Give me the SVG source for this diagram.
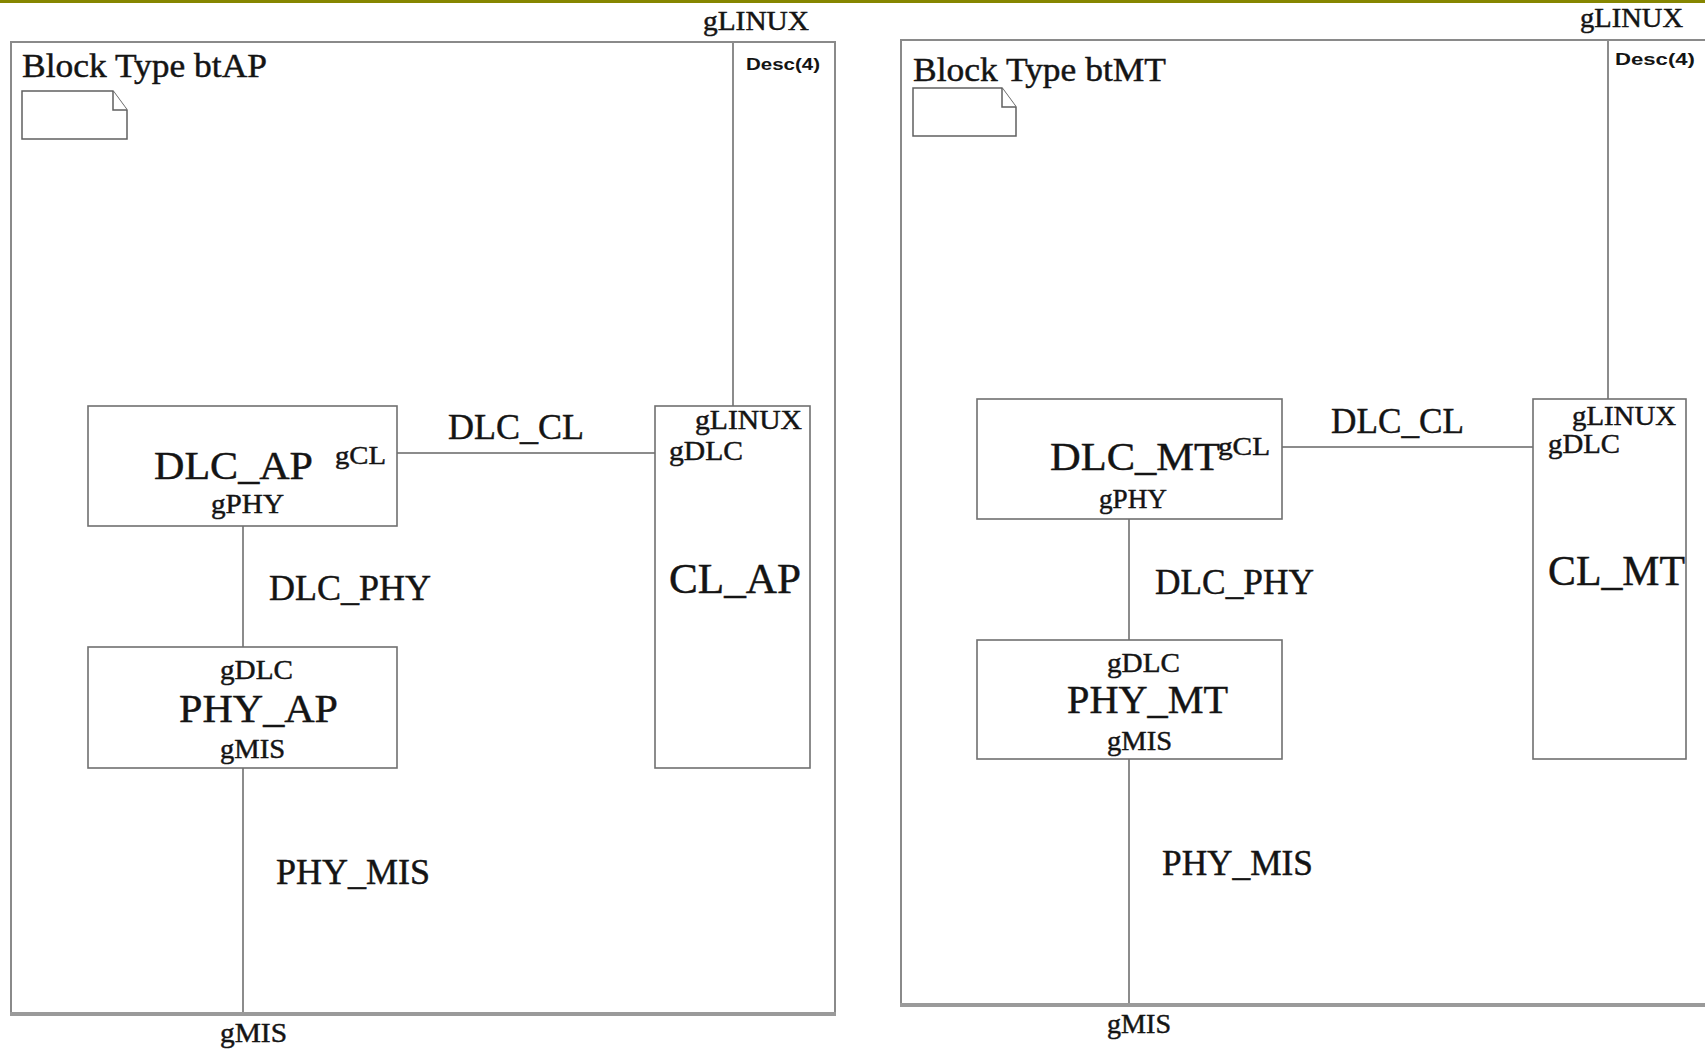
<svg xmlns="http://www.w3.org/2000/svg" width="1705" height="1049" viewBox="0 0 1705 1049">
<style>
.t{font-family:"Liberation Serif","Times New Roman",serif;fill:#141414;stroke:#141414;stroke-width:0.45}
.s{font-family:"Liberation Sans",Arial,sans-serif;fill:#141414;font-weight:bold}
.frame{fill:none;stroke:#8a8a8a;stroke-width:2}
.fb{fill:none;stroke:#9a9a9a;stroke-width:4}
.box{fill:#fff;stroke:#707070;stroke-width:1.6}
.note{fill:#fff;stroke:#606060;stroke-width:1.5}
.conn line{stroke:#8c8c8c;stroke-width:2}
</style>
<rect x="0" y="0" width="1705" height="1049" fill="#fff"/>
<rect x="0" y="0" width="1705" height="3" fill="#868600"/>

<!-- Left frame -->
<g id="frame-btAP">
  <path class="frame" d="M11,1013 V42 H835 V1013"/>
  <line class="fb" x1="10" y1="1014" x2="836" y2="1014"/>
  <text class="t" x="22" y="77" font-size="34" textLength="245" lengthAdjust="spacingAndGlyphs">Block Type btAP</text>
  <path class="note" d="M22,91 H113 L127,110 V139 H22 Z"/>
  <path class="note" d="M113,91 V110 H127" fill="none"/>
  <text class="t" x="703" y="30" font-size="27" textLength="106" lengthAdjust="spacingAndGlyphs">gLINUX</text>
  <text class="s" x="746" y="70" font-size="17" textLength="74" lengthAdjust="spacingAndGlyphs">Desc(4)</text>
  <text class="t" x="220" y="1042" font-size="27" textLength="67" lengthAdjust="spacingAndGlyphs">gMIS</text>
</g>

<!-- Right frame -->
<g id="frame-btMT">
  <path class="frame" d="M901,1004 V40 H1712"/>
  <line class="fb" x1="900" y1="1005" x2="1712" y2="1005"/>
  <text class="t" x="913" y="81" font-size="34" textLength="253" lengthAdjust="spacingAndGlyphs">Block Type btMT</text>
  <path class="note" d="M913,88 H1002 L1016,107 V136 H913 Z"/>
  <path class="note" d="M1002,88 V107 H1016" fill="none"/>
  <text class="t" x="1580" y="27" font-size="27" textLength="103" lengthAdjust="spacingAndGlyphs">gLINUX</text>
  <text class="s" x="1615" y="65" font-size="17" textLength="80" lengthAdjust="spacingAndGlyphs">Desc(4)</text>
  <text class="t" x="1107" y="1033" font-size="27" textLength="64" lengthAdjust="spacingAndGlyphs">gMIS</text>
</g>

<!-- Connectors -->
<g id="connectors" class="conn">
  <line x1="733" y1="42" x2="733" y2="406"/>
  <line x1="397" y1="453" x2="655" y2="453"/>
  <line x1="243" y1="526" x2="243" y2="647"/>
  <line x1="243" y1="768" x2="243" y2="1012"/>
  <line x1="1608" y1="40" x2="1608" y2="399"/>
  <line x1="1282" y1="447" x2="1533" y2="447"/>
  <line x1="1129" y1="519" x2="1129" y2="640"/>
  <line x1="1129" y1="759" x2="1129" y2="1003"/>
  <text class="t" x="448" y="439" font-size="36" textLength="136" lengthAdjust="spacingAndGlyphs">DLC_CL</text>
  <text class="t" x="269" y="600" font-size="36" textLength="162" lengthAdjust="spacingAndGlyphs">DLC_PHY</text>
  <text class="t" x="276" y="884" font-size="36" textLength="154" lengthAdjust="spacingAndGlyphs">PHY_MIS</text>
  <text class="t" x="1331" y="433" font-size="36" textLength="133" lengthAdjust="spacingAndGlyphs">DLC_CL</text>
  <text class="t" x="1155" y="594" font-size="36" textLength="159" lengthAdjust="spacingAndGlyphs">DLC_PHY</text>
  <text class="t" x="1162" y="875" font-size="36" textLength="151" lengthAdjust="spacingAndGlyphs">PHY_MIS</text>
</g>

<!-- Left nodes -->
<g id="DLC_AP">
  <rect class="box" x="88" y="406" width="309" height="120"/>
  <text class="t" x="154" y="479" font-size="41" textLength="159" lengthAdjust="spacingAndGlyphs">DLC_AP</text>
  <text class="t" x="335" y="464" font-size="25" textLength="51" lengthAdjust="spacingAndGlyphs">gCL</text>
  <text class="t" x="211" y="513" font-size="27" textLength="73" lengthAdjust="spacingAndGlyphs">gPHY</text>
</g>
<g id="PHY_AP">
  <rect class="box" x="88" y="647" width="309" height="121"/>
  <text class="t" x="220" y="679" font-size="27" textLength="73" lengthAdjust="spacingAndGlyphs">gDLC</text>
  <text class="t" x="179" y="722" font-size="41" textLength="159" lengthAdjust="spacingAndGlyphs">PHY_AP</text>
  <text class="t" x="220" y="758" font-size="27" textLength="65" lengthAdjust="spacingAndGlyphs">gMIS</text>
</g>
<g id="CL_AP">
  <rect class="box" x="655" y="406" width="155" height="362"/>
  <text class="t" x="695" y="429" font-size="27" textLength="107" lengthAdjust="spacingAndGlyphs">gLINUX</text>
  <text class="t" x="669" y="460" font-size="27" textLength="74" lengthAdjust="spacingAndGlyphs">gDLC</text>
  <text class="t" x="669" y="593" font-size="43" textLength="132" lengthAdjust="spacingAndGlyphs">CL_AP</text>
</g>

<!-- Right nodes -->
<g id="DLC_MT">
  <rect class="box" x="977" y="399" width="305" height="120"/>
  <text class="t" x="1050" y="470" font-size="41" textLength="170" lengthAdjust="spacingAndGlyphs">DLC_MT</text>
  <text class="t" x="1218" y="455" font-size="25" textLength="52" lengthAdjust="spacingAndGlyphs">gCL</text>
  <text class="t" x="1099" y="508" font-size="27" textLength="68" lengthAdjust="spacingAndGlyphs">gPHY</text>
</g>
<g id="PHY_MT">
  <rect class="box" x="977" y="640" width="305" height="119"/>
  <text class="t" x="1107" y="672" font-size="27" textLength="73" lengthAdjust="spacingAndGlyphs">gDLC</text>
  <text class="t" x="1067" y="713" font-size="41" textLength="161" lengthAdjust="spacingAndGlyphs">PHY_MT</text>
  <text class="t" x="1107" y="750" font-size="27" textLength="65" lengthAdjust="spacingAndGlyphs">gMIS</text>
</g>
<g id="CL_MT">
  <rect class="box" x="1533" y="399" width="153" height="360"/>
  <text class="t" x="1572" y="425" font-size="27" textLength="104" lengthAdjust="spacingAndGlyphs">gLINUX</text>
  <text class="t" x="1548" y="453" font-size="27" textLength="72" lengthAdjust="spacingAndGlyphs">gDLC</text>
  <text class="t" x="1548" y="585" font-size="43" textLength="137" lengthAdjust="spacingAndGlyphs">CL_MT</text>
</g>
</svg>
